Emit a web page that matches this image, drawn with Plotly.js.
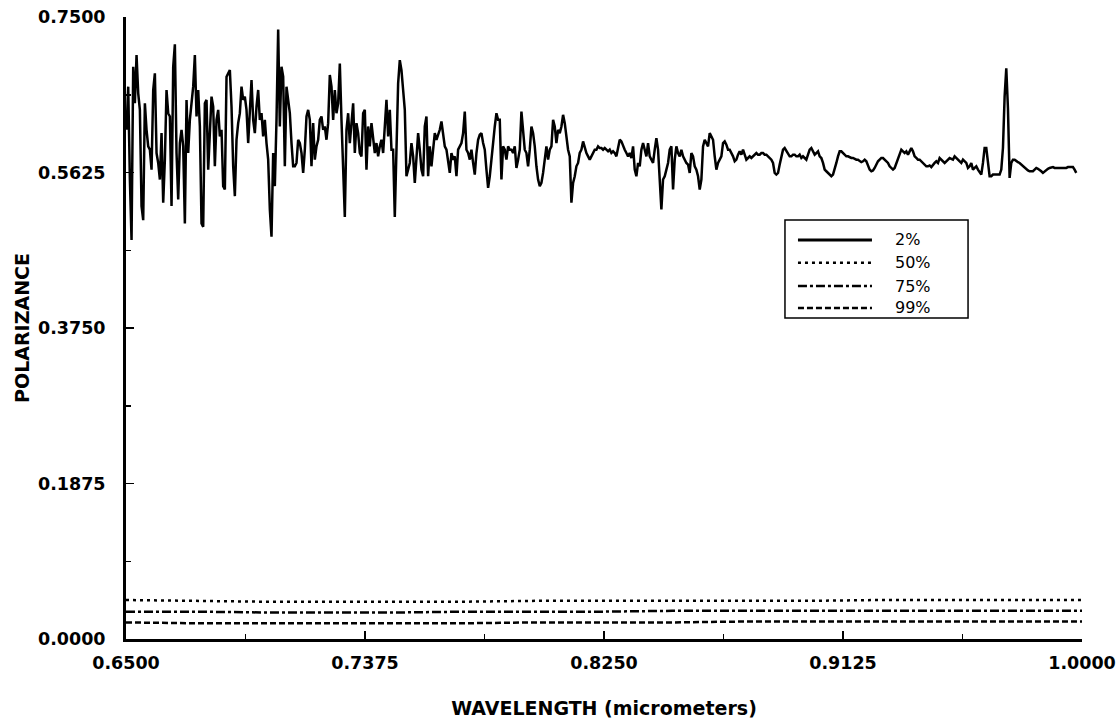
<!DOCTYPE html>
<html><head><meta charset="utf-8">
<script src="https://cdn.plot.ly/plotly-3.0.1.min.js"></script>
<style>html,body{margin:0;padding:0;background:#fff}#chart{width:1120px;height:724px}</style>
</head><body><div id="chart"></div>
<script>
const seriesNames = ['2%', '50%', '75%', '99%'];

// 2% series: sampled on a regular wavelength grid
const wavelengthStart = 0.6502;
const wavelengthStep = 0.00061;
const pol2Part1 = [
0.614,0.666,0.554,0.481,0.690,0.646,0.704,0.658,0.638,0.522,
0.505,0.646,0.614,0.594,0.590,0.566,0.662,0.682,0.586,0.574,
0.554,0.610,0.526,0.578,0.662,0.634,0.630,0.522,0.690,0.717,
0.586,0.530,0.598,0.614,0.594,0.501,0.650,0.586,0.626,0.650,
0.666,0.704,0.630,0.662,0.618,0.501,0.497,0.646,0.650,0.566,
0.618,0.654,0.642,0.570,0.626,0.638,0.606,0.614,0.546,0.542,
0.678,0.682,0.686,0.642,0.570,0.534,0.602,0.622,0.634,0.666,
0.650,0.654,0.638,0.598,0.642,0.674,0.626,0.610,0.642,0.662,
0.626,0.634,0.606,0.626,0.598,0.578,0.518,0.485,0.586,0.546,
0.626,0.735,0.618,0.690,0.678,0.570,0.666,0.650,0.634,0.598,
0.570,0.570,0.574,0.602,0.598,0.586,0.562,0.590,0.630,0.638,
0.626,0.570,0.622,0.578,0.594,0.602,0.626,0.630,0.614,0.618,
0.602,0.622,0.680,0.666,0.626,0.662,0.634,0.646,0.694,0.626,
0.578,0.509,0.614,0.634,0.598,0.626,0.646,0.586,0.622,0.610,
0.586,0.582,0.634,0.638,0.566,0.618,0.594,0.622,0.606,0.586,
0.598,0.582,0.594,0.602,0.586,0.618,0.650,0.606,0.638,0.590,
0.590,0.509,0.594,0.670,0.698,0.686,0.662,0.638,0.558,0.566,
0.574,0.598,0.582,0.550,0.586,0.610];
const pol2Part2 = [
0.590,0.566,0.558,0.618,0.630,0.558,0.594,0.570,0.590,0.610,
0.602,0.608,0.614,0.624,0.606,0.594,0.590,0.578,0.562,0.586,
0.578,0.582,0.558,0.590,0.594,0.598,0.610,0.636,0.590,0.586,
0.578,0.590,0.574,0.560,0.586,0.602,0.608,0.610,0.598,0.590,
0.566,0.544,0.558,0.582,0.598,0.618,0.634,0.626,0.626,0.554,
0.594,0.590,0.578,0.594,0.590,0.590,0.586,0.594,0.568,0.578,
0.590,0.636,0.614,0.590,0.586,0.570,0.590,0.618,0.610,0.594,
0.570,0.554,0.546,0.550,0.562,0.582,0.594,0.578,0.590,0.594,
0.626,0.618,0.598,0.614,0.610,0.618,0.632,0.622,0.602,0.590,
0.582,0.526,0.550,0.558,0.570,0.574,0.586,0.590,0.600,0.592,
0.586,0.582,0.578,0.582,0.586,0.590,0.590,0.594,0.592,0.592,
0.590,0.592,0.590,0.588,0.590,0.586,0.588,0.586,0.582,0.594,
0.602,0.600,0.594,0.590,0.586,0.582,0.586,0.580,0.594,0.566,
0.558,0.574,0.570,0.590,0.598,0.590,0.582,0.598,0.582,0.578,
0.574,0.590,0.604,0.590,0.554,0.518,0.554,0.558,0.566,0.574,
0.590,0.594,0.542,0.578,0.594,0.586,0.582,0.590,0.582,0.578,
0.574,0.572,0.562,0.586,0.582,0.570,0.566,0.558];
const pol2Part3 = [
0.542,0.554,0.594,0.602,0.598,0.594,0.610,0.606,0.602,0.582,
0.566,0.574,0.578,0.582,0.598,0.600,0.596,0.590,0.590,0.586,
0.582,0.576,0.578,0.584,0.588,0.584,0.590,0.584,0.578,0.580,
0.582,0.580,0.582,0.584,0.586,0.584,0.584,0.586,0.586,0.584,
0.584,0.582,0.580,0.578,0.574,0.562,0.560,0.562,0.572,0.582,
0.590,0.592,0.588,0.584,0.582,0.582,0.584,0.584,0.582,0.582];
const pol2Part4 = [
0.584,0.580,0.582,0.580,0.578,0.584,0.590,0.592,0.588,0.584,
0.586,0.588,0.582,0.580,0.574,0.566,0.564,0.562,0.560,0.558,
0.560,0.566,0.574,0.582,0.588,0.588,0.586,0.584,0.582,0.582,
0.581,0.580,0.580,0.579,0.578,0.578,0.576,0.575,0.576,0.578,
0.576,0.570,0.566,0.564,0.565,0.568,0.572,0.576,0.578,0.580,
0.580,0.578,0.576,0.574,0.570,0.568,0.566,0.568,0.574,0.578,
0.584,0.590,0.588,0.586,0.588,0.584,0.588,0.592,0.588,0.582,
0.580,0.578,0.578,0.576,0.574,0.572,0.570,0.570,0.571,0.569,
0.572,0.574,0.576,0.574,0.580,0.578,0.576,0.574,0.576,0.578,
0.580,0.579,0.578,0.582,0.580,0.578,0.576,0.574,0.578,0.576,
0.574,0.568,0.570,0.574,0.566,0.568,0.570,0.566,0.562,0.560,
0.574,0.592,0.592,0.578,0.558,0.558,0.560,0.560,0.560,0.560,
0.560,0.566,0.592,0.654,0.688,0.640,0.556,0.574,0.578,0.578,
0.576,0.575,0.574,0.572,0.570,0.568,0.566,0.565,0.564,0.564,
0.564,0.566,0.568,0.567,0.566,0.564,0.562,0.564,0.566,0.567,
0.568,0.569,0.569,0.568,0.568,0.568,0.568,0.568,0.568,0.568,
0.568,0.569,0.569,0.569,0.569,0.566,0.562];

// 50%, 75%, 99% series
const lowWavelengths = [0.65,0.675,0.70,0.725,0.75,0.775,0.80,0.825,0.85,0.875,0.90,0.925,0.95,0.975,1.0];
const pol50 = [0.047,0.046,0.045,0.045,0.045,0.045,0.046,0.046,0.046,0.046,0.046,0.047,0.047,0.047,0.047];
const pol75 = [0.033,0.033,0.032,0.032,0.032,0.033,0.033,0.033,0.034,0.034,0.034,0.034,0.034,0.034,0.034];
const pol99 = [0.020,0.019,0.019,0.019,0.019,0.019,0.020,0.020,0.020,0.021,0.021,0.021,0.021,0.021,0.021];

const xTickVals = [0.65, 0.7375, 0.825, 0.9125, 1.0];
const xTickText = ['0.6500', '0.7375', '0.8250', '0.9125', '1.0000'];
const yTickVals = [0, 0.1875, 0.375, 0.5625, 0.75];
const yTickText = ['0.0000', '0.1875', '0.3750', '0.5625', '0.7500'];

const pol2 = pol2Part1.concat(pol2Part2, pol2Part3, pol2Part4);
const wl2 = pol2.map((_, i) => wavelengthStart + i * wavelengthStep);

const FONT = 'DejaVu Sans';
const lineStyles = [
  {color: '#000', width: 2.5},
  {color: '#000', width: 2.5, dash: '3px,4px'},
  {color: '#000', width: 2.5, dash: '9px,3px,3px,3px'},
  {color: '#000', width: 2.5, dash: '6px,3px'}
];
const seriesX = [wl2, lowWavelengths, lowWavelengths, lowWavelengths];
const seriesY = [pol2, pol50, pol75, pol99];

const traces = seriesNames.map((name, i) => ({
  x: seriesX[i], y: seriesY[i], name: name, type: 'scatter', mode: 'lines',
  line: lineStyles[i], showlegend: false
}));

// Boxed legend (drawn in paper coordinates, like the original's legend box)
const legBox = {x0: 0.6893, x1: 0.8808, y0: 0.5161, y1: 0.6736};
const legRows = [0.6415, 0.6050, 0.5675, 0.5322];
const legSampleX = [0.7029, 0.7803];
const legLabelX = 0.8023;

const shapes = [{type: 'rect', xref: 'paper', yref: 'paper',
  x0: legBox.x0, x1: legBox.x1, y0: legBox.y0, y1: legBox.y1,
  line: {color: '#000', width: 1.5}, fillcolor: '#fff', layer: 'above'}];
const annotations = [];
seriesNames.forEach((name, i) => {
  const st = Object.assign({}, lineStyles[i]);
  if (i === 0) st.width = 3;
  shapes.push({type: 'line', xref: 'paper', yref: 'paper',
    x0: legSampleX[0], x1: legSampleX[1], y0: legRows[i], y1: legRows[i],
    line: st, layer: 'above'});
  annotations.push({xref: 'paper', yref: 'paper', x: legLabelX, y: legRows[i],
    xanchor: 'left', yanchor: 'middle', text: name, showarrow: false,
    font: {family: FONT, size: 16, color: '#000'}});
});

const tickFont = {family: FONT, size: 17.5, weight: 'bold', color: '#000'};
const titleFont = {family: FONT, size: 19, weight: 'bold', color: '#000'};

const layout = {
  width: 1120, height: 724,
  margin: {l: 126, r: 38, t: 17, b: 85},
  paper_bgcolor: '#fff', plot_bgcolor: '#fff',
  showlegend: false,
  shapes: shapes,
  annotations: annotations,
  xaxis: {range: [0.65, 1.0], tickmode: 'array', tickvals: xTickVals, ticktext: xTickText,
    ticks: 'inside', ticklen: 8, tickwidth: 1.5, tickcolor: '#000',
    showline: true, linewidth: 3, linecolor: '#000', showgrid: false, zeroline: false,
    tickfont: tickFont, ticklabelstandoff: 6,
    minor: {tickmode: 'linear', tick0: 0.65, dtick: 0.04375, ticks: 'inside', ticklen: 5,
      tickwidth: 1.5, tickcolor: '#000', showgrid: false},
    title: {text: 'WAVELENGTH (micrometers)', font: titleFont, standoff: 30},
    automargin: false},
  yaxis: {range: [0, 0.75], tickmode: 'array', tickvals: yTickVals, ticktext: yTickText,
    ticks: 'inside', ticklen: 8, tickwidth: 1.5, tickcolor: '#000',
    showline: true, linewidth: 3, linecolor: '#000', showgrid: false, zeroline: false,
    tickfont: tickFont, ticklabelstandoff: 14,
    minor: {tickmode: 'linear', tick0: 0, dtick: 0.09375, ticks: 'inside', ticklen: 5,
      tickwidth: 1.5, tickcolor: '#000', showgrid: false},
    title: {text: 'POLARIZANCE', font: titleFont, standoff: 4},
    automargin: false}
};

Plotly.newPlot('chart', traces, layout, {staticPlot: true, displayModeBar: false});
</script>
</body></html>
